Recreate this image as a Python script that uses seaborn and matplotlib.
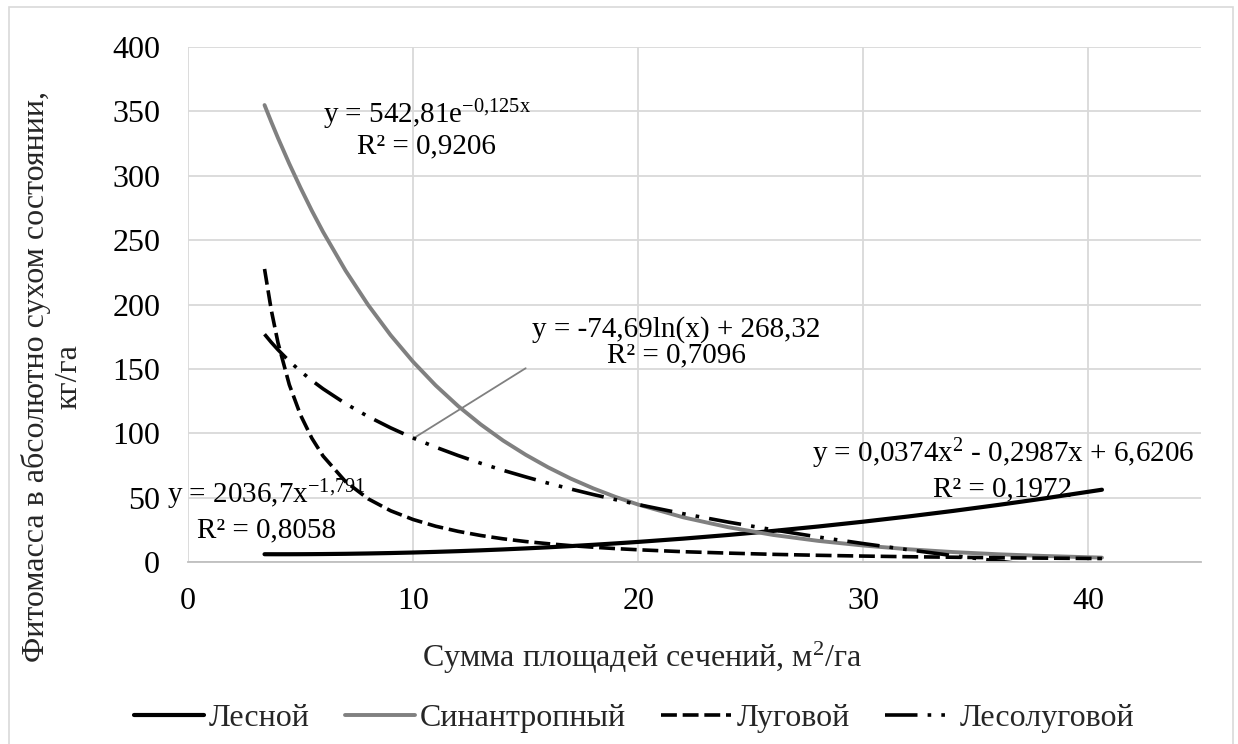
import matplotlib
matplotlib.use("Agg")
import matplotlib.pyplot as plt
import seaborn as sns
import pandas as pd
from matplotlib.patches import Rectangle

# ---------------- data ----------------
x_vals = [3.4, 3.7, 4, 4.5, 5, 5.5, 6, 7, 8, 9, 10, 11, 12, 13, 14, 15, 16,
          17, 18, 19, 20, 22, 24, 26, 28, 30, 32, 34, 36, 38, 40.6]
lesnoy = [6.04, 6.03, 6.02, 6.03, 6.06, 6.11, 6.18, 6.36, 6.63, 6.96, 7.37,
          7.86, 8.42, 9.06, 9.77, 10.56, 11.42, 12.35, 13.36, 14.45, 15.61,
          18.15, 20.99, 24.14, 27.58, 31.32, 35.36, 39.70, 44.34, 49.28, 56.14]
sinantrop = [354.9, 341.8, 329.2, 309.3, 290.6, 272.9, 256.4, 226.3, 199.7,
             176.2, 155.5, 137.2, 121.1, 106.9, 94.3, 83.3, 73.5, 64.8, 57.2,
             50.5, 44.6, 34.7, 27.0, 21.0, 16.4, 12.8, 9.9, 7.7, 6.0, 4.7, 3.4]
lugovoy = [227.6, 195.6, 170.1, 137.7, 114.1, 96.2, 82.3, 62.4, 49.1, 39.8,
           33.0, 27.8, 23.8, 20.6, 18.0, 15.9, 14.2, 12.7, 11.5, 10.4, 9.5,
           8.0, 6.9, 5.95, 5.2, 4.6, 4.1, 3.7, 3.3, 3.0, 2.7]
x_lesolug = [3.4, 3.7, 4, 4.5, 5, 5.5, 6, 7, 8, 9, 10, 11, 12, 13, 14, 15, 16,
             17, 18, 19, 20, 22, 24, 26, 28, 30, 32, 34, 36, 36.9]
lesolug = [176.9, 170.6, 164.8, 156.0, 148.1, 141.0, 134.5, 123.0, 113.0,
           104.2, 96.3, 89.2, 82.7, 76.7, 71.2, 66.1, 61.2, 56.7, 52.4, 48.4,
           44.6, 37.5, 31.0, 25.0, 19.4, 14.3, 9.5, 4.9, 0.7, -1.2]

series_names = ["Лесной", "Синантропный", "Луговой", "Лесолуговой"]
x_ticks = [0, 10, 20, 30, 40]
y_ticks = [0, 50, 100, 150, 200, 250, 300, 350, 400]

eq_texts = [
    (r"y = 542,81e$^{\mathrm{-0{,}125x}}$", "R² = 0,9206", 10.6, 341.0, 317.7),
    ("y = -74,69ln(x) + 268,32", "R² = 0,7096", 21.7, 174.8, 155.3),
    (r"y = 2036,7x$^{\mathrm{-1{,}791}}$", "R² = 0,8058", 3.5, 45.8, 19.4),
    (r"y = 0,0374x$^{\mathrm{2}}$ - 0,2987x + 6,6206", "R² = 0,1972", 36.2, 77.7, 51.3),
]

# ---------------- style ----------------
sns.set_style("white")
plt.rcParams["font.family"] = ["Liberation Serif", "DejaVu Serif"]
plt.rcParams["mathtext.fontset"] = "custom"
plt.rcParams["mathtext.rm"] = "Liberation Serif"
plt.rcParams["mathtext.it"] = "Liberation Serif:italic"
plt.rcParams["mathtext.bf"] = "Liberation Serif:bold"

W, H = 1238, 744
fig = plt.figure(figsize=(W / 100, H / 100), dpi=100)
ax = fig.add_axes([188 / W, 1 - 562 / H, (1201 - 188) / W, (562 - 47) / H])

grid_c = "#d9d9d9"
FS = 23
FS_EQ = 21

specs = [
    (x_vals, lesnoy, "black", 3.0, None),
    (x_vals, sinantrop, "#808080", 2.8, None),
    (x_vals, lugovoy, "black", 2.6, (4.4, 1.6)),
    (x_lesolug, lesolug, "black", 2.6, (9.0, 2.8, 1.0, 2.8, 1.0, 2.8)),
]
handles = []
for (xs, ys, col, lw, dash), name in zip(specs, series_names):
    df = pd.DataFrame({"x": xs, "y": ys})
    sns.lineplot(data=df, x="x", y="y", ax=ax, color=col, linewidth=lw,
                 estimator=None, sort=False, legend=False)
    ln = ax.lines[-1]
    ln.set_solid_capstyle("round")
    ln.set_solid_joinstyle("round")
    if dash is not None:
        ln.set_dashes(dash)
        ln.set_dash_capstyle("butt")
    ln.set_label(name)
    handles.append(ln)

# leader line of the log trendline label
ax.plot([10.1, 15.0], [97.0, 150.5], color="#808080", lw=1.3, zorder=1)

for eq, r2, xc, y1, y2 in eq_texts:
    ax.text(xc, y1, eq, ha="center", va="baseline", fontsize=FS_EQ, color="black")
    ax.text(xc, y2, r2, ha="center", va="baseline", fontsize=FS_EQ, color="black")

ax.set_xlim(0, 45)
ax.set_ylim(0, 400)
ax.set_xticks(x_ticks)
ax.set_yticks(y_ticks)
ax.set_xticklabels([str(v) for v in x_ticks])
ax.set_yticklabels([str(v) for v in y_ticks])
ax.tick_params(axis="both", length=0, labelsize=FS, colors="black")
ax.tick_params(axis="x", pad=18)
ax.tick_params(axis="y", pad=20)
ax.grid(True, color=grid_c, lw=1.3)
ax.set_axisbelow(True)
for s in ["top", "right", "left"]:
    ax.spines[s].set_visible(False)
ax.spines["bottom"].set_color("#bfbfbf")
ax.spines["bottom"].set_linewidth(1.3)
ax.set_xlabel("")
ax.set_ylabel("")

fig.text(52 / W, 1 - 377 / H, "Фитомасса в абсолютно сухом состоянии,\nкг/га",
         rotation=90, ha="center", va="center", multialignment="center",
         fontsize=FS, linespacing=1.15)
fig.text(642 / W, 1 - 658 / H, "Сумма площадей сечений, м$^{2}$/га",
         ha="center", va="center", fontsize=FS)

fig.legend(handles=handles, labels=series_names, loc="center",
           bbox_to_anchor=(634 / W, 1 - 718 / H), ncol=4, frameon=False,
           fontsize=FS, handlelength=2.2, handletextpad=0.15,
           columnspacing=1.1, borderaxespad=0, borderpad=0)

fig.patches.append(Rectangle((9 / W, -0.01), (1233 - 9) / W, 1.01 - 7 / H,
                             transform=fig.transFigure, fill=False,
                             edgecolor=grid_c, lw=1.2))

fig.savefig("out.png", dpi=100)
